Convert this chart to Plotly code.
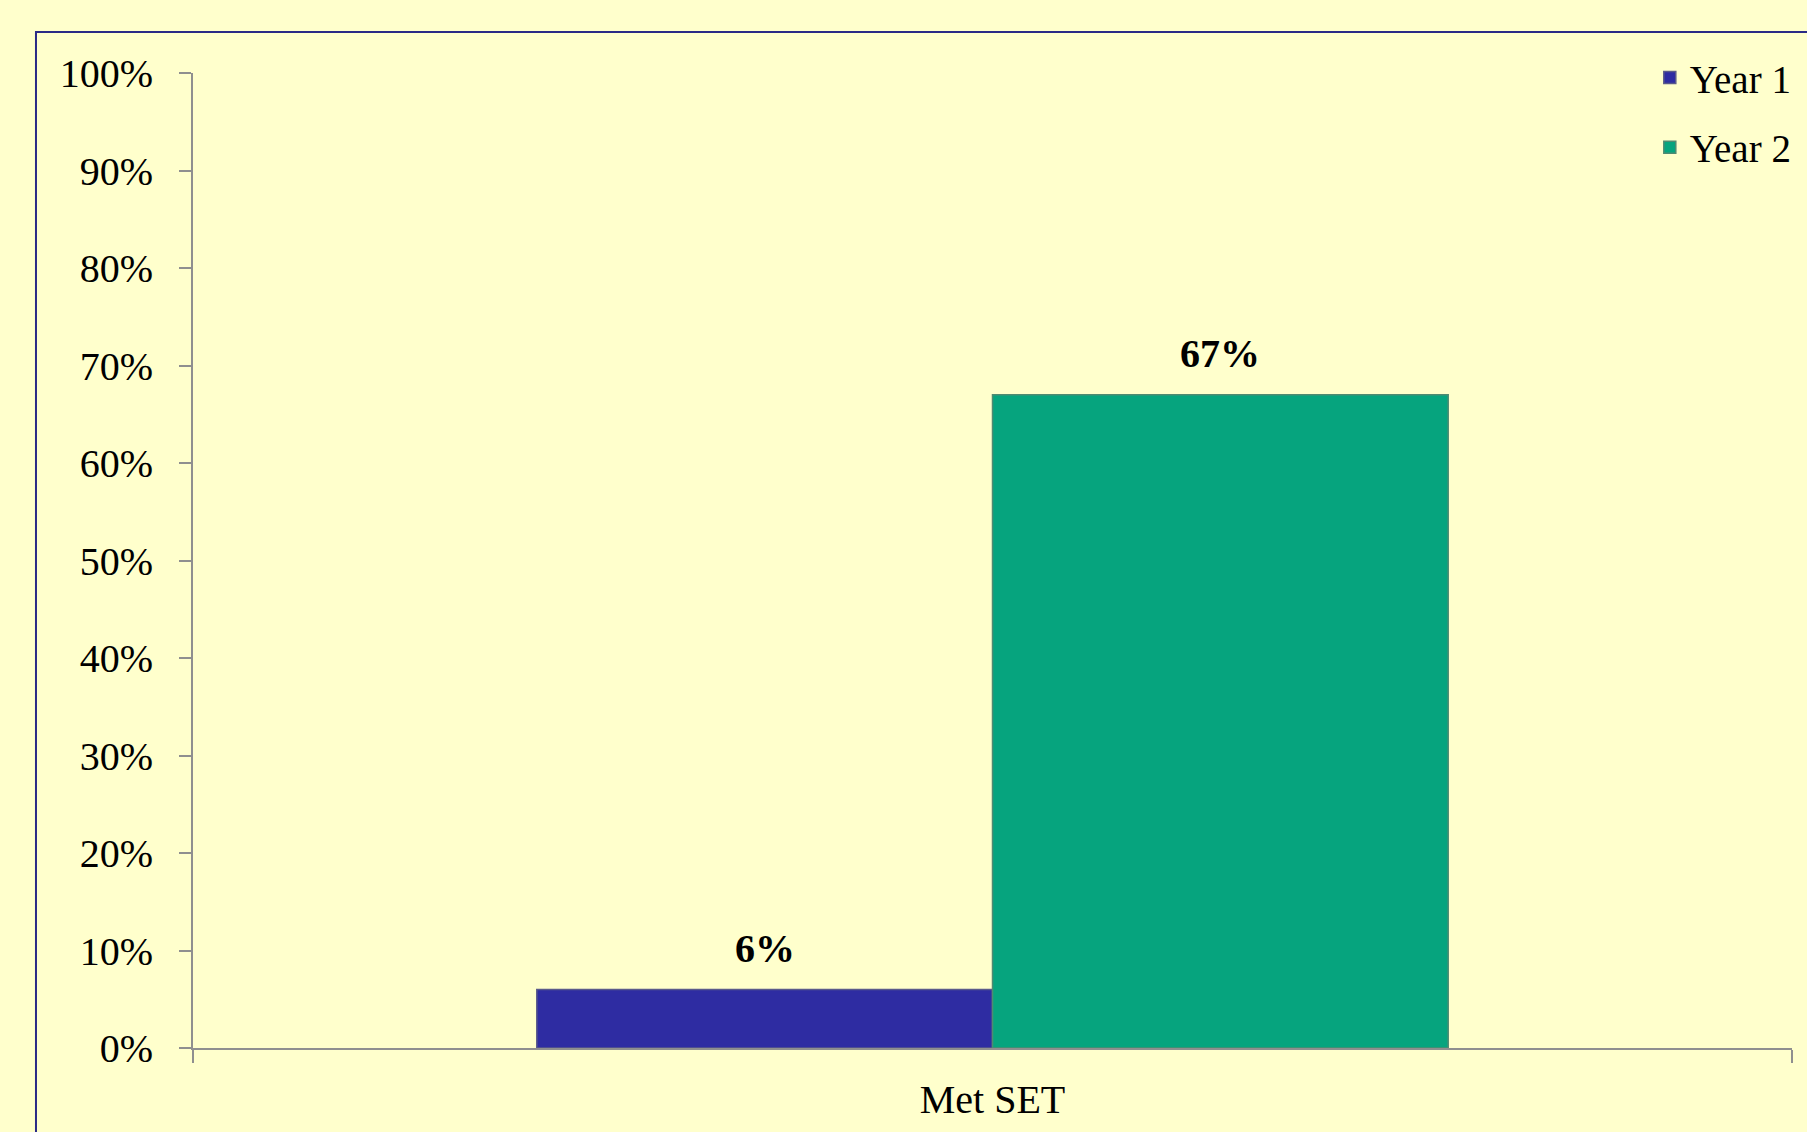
import plotly.graph_objects as go

categories = ["Met SET"]
series_names = ["Year 1", "Year 2"]
year1_values = [0.06]
year2_values = [0.67]
y_tick_values = [0, 0.1, 0.2, 0.3, 0.4, 0.5, 0.6, 0.7, 0.8, 0.9, 1.0]

BG = "#FFFFCC"
FONT = "Liberation Serif"
AXIS_GRAY = "#8f8f8f"
BAR_W = 0.285

fig = go.Figure()
fig.add_trace(go.Bar(
    name=series_names[0], x=categories, y=year1_values,
    offset=-BAR_W, width=BAR_W,
    marker=dict(color="#2E2CA2", line=dict(color="#5a5a8a", width=1.5)),
    legendgroup="a",
))
fig.add_trace(go.Bar(
    name=series_names[1], x=categories, y=year2_values,
    offset=0, width=BAR_W,
    marker=dict(color="#06A47E", line=dict(color="#4f8a72", width=1.5)),
    legendgroup="b",
))

for i, cat in enumerate(categories):
    for vals, sign in ((year1_values, -1), (year2_values, 1)):
        fig.add_annotation(
            x=i + sign * BAR_W / 2, y=vals[i], xref="x", yref="y",
            text=f"<b>{vals[i]*100:.0f}%</b>", showarrow=False,
            yanchor="bottom", yshift=17,
            font=dict(family=FONT, size=40, color="black"),
        )

# outer frame
fig.add_shape(type="rect", xref="paper", yref="paper",
              x0=-0.0982, x1=1.3, y0=-0.3, y1=1.042,
              line=dict(color="#2a2a86", width=2), layer="below")

fig.update_layout(
    width=1807, height=1132,
    paper_bgcolor=BG, plot_bgcolor=BG,
    margin=dict(l=193, r=15, t=73, b=84, autoexpand=False),
    showlegend=True,
    legend=dict(x=1.003, y=1.028, xanchor="right", yanchor="top",
                font=dict(family=FONT, size=39, color="black"),
                bgcolor="rgba(0,0,0,0)", tracegroupgap=16),
    font=dict(family=FONT, color="black"),
    xaxis=dict(
        type="category", range=[-0.5, 0.5], automargin=False,
        tickson="boundaries", ticks="outside", ticklen=13, tickwidth=2,
        tickcolor=AXIS_GRAY, showline=True, linecolor=AXIS_GRAY, linewidth=2,
        showgrid=False, zeroline=False,
        tickfont=dict(family=FONT, size=40, color="black"),
        ticklabelstandoff=15,
    ),
    yaxis=dict(
        range=[0, 1], tickvals=y_tick_values, tickformat=".0%", automargin=False,
        ticks="outside", ticklen=12, tickwidth=2, tickcolor=AXIS_GRAY,
        showline=True, linecolor=AXIS_GRAY, linewidth=2,
        showgrid=False, zeroline=False,
        tickfont=dict(family=FONT, size=40, color="black"),
        ticklabelstandoff=18,
    ),
)

fig.write_html(
    "out.html",
    config={"displayModeBar": False},
    post_script="document.body.style.margin='0';document.body.style.background='#FFFFCC';",
)
